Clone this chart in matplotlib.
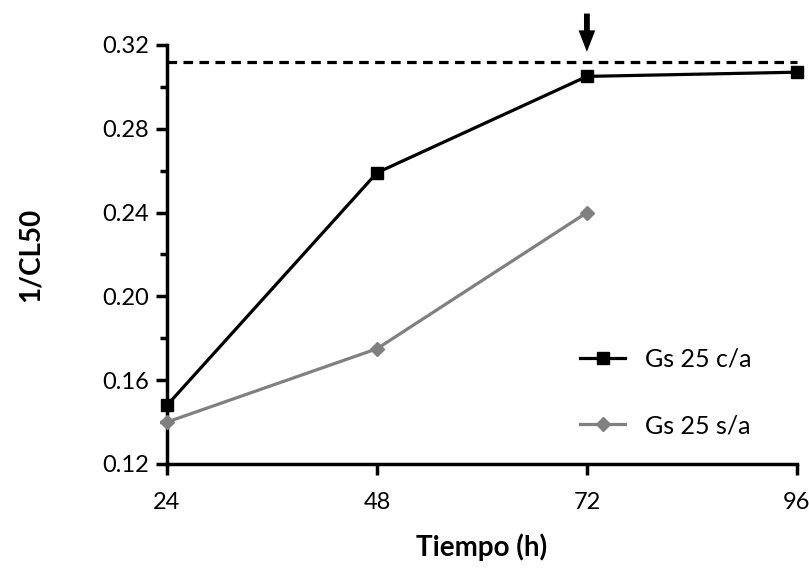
import matplotlib
matplotlib.use("Agg")
import matplotlib.pyplot as plt
from matplotlib.ticker import MultipleLocator

plt.rcParams['font.family'] = ['Lato', 'DejaVu Sans']

hours = [24, 48, 72, 96]
ca_values = [0.148, 0.259, 0.305, 0.307]
sa_hours = [24, 48, 72]
sa_values = [0.140, 0.175, 0.240]
plateau = 0.312
arrow_x = 72
xticks = [24, 48, 72, 96]
yticks = [0.12, 0.16, 0.20, 0.24, 0.28, 0.32]

fig = plt.figure(figsize=(8.09, 5.84), dpi=100)
ax = fig.add_axes([0.2064, 0.2055, 0.985 - 0.2064, 0.923 - 0.2055])

ax.plot(hours, ca_values, color='black', lw=2.3, marker='s', ms=8,
        label='Gs 25 c/a', clip_on=False, zorder=4)
ax.plot(sa_hours, sa_values, color='#808080', lw=2.3, marker='D', ms=7,
        label='Gs 25 s/a', clip_on=False, zorder=3)
ax.axhline(plateau, color='black', lw=2.3, ls=(0, (3, 2)), clip_on=False)

ax.annotate('', xy=(arrow_x, 0.3167), xytext=(arrow_x, 0.3350),
            arrowprops=dict(arrowstyle='simple,head_length=1.55,head_width=1.2,tail_width=0.42',
                            mutation_scale=10, shrinkA=0, shrinkB=0,
                            color='black', lw=0),
            annotation_clip=False)

ax.set_xlim(24, 96)
ax.set_ylim(0.12, 0.32)
ax.set_xticks(xticks)
ax.set_xticklabels([str(v) for v in xticks])
ax.set_yticks(yticks)
ax.set_yticklabels(['%.2f' % v for v in yticks])
ax.yaxis.set_minor_locator(MultipleLocator(0.02))

for s in ['top', 'right']:
    ax.spines[s].set_visible(False)
for s in ['left', 'bottom']:
    ax.spines[s].set_linewidth(2.5)

ax.tick_params(axis='both', which='major', direction='out', length=8, width=2.5,
               labelsize=17, pad=5)
ax.tick_params(axis='y', which='minor', direction='out', length=5, width=2.5)
ax.tick_params(axis='x', pad=12)

ax.set_xlabel('Tiempo (h)', fontsize=20, fontweight='bold', labelpad=15)
ax.set_ylabel('1/CL50', fontsize=20, fontweight='bold', labelpad=42)

ax.legend(loc='lower left', bbox_to_anchor=(0.64, 0.04), frameon=False,
          fontsize=18, handlelength=1.8, handletextpad=0.8,
          labelspacing=1.75, borderaxespad=0)

fig.savefig('out.png', dpi=100)
